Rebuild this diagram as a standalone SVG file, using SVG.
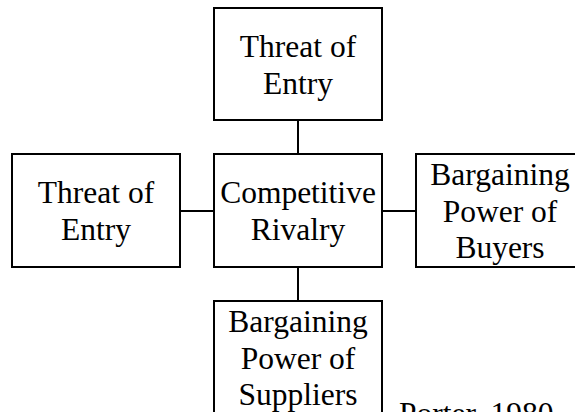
<svg xmlns="http://www.w3.org/2000/svg" width="575" height="412" viewBox="0 0 575 412">
<style>
.box{fill:#fff;stroke:#000;stroke-width:2}
.con{stroke:#000;stroke-width:2;fill:none}
text{font-family:"Liberation Serif","Times New Roman",serif;font-size:31.5px;fill:#000;text-anchor:middle}
</style>
<rect width="575" height="412" fill="#fff"/>
<g id="connectors">
<line class="con" x1="298" y1="120" x2="298" y2="154"/>
<line class="con" x1="180" y1="211" x2="214" y2="211"/>
<line class="con" x1="382" y1="211" x2="416" y2="211"/>
<line class="con" x1="298" y1="267" x2="298" y2="301"/>
</g>
<g id="top">
<rect class="box" x="214" y="8" width="168" height="112"/>
<text x="298" y="57">Threat of</text>
<text x="298" y="94">Entry</text>
</g>
<g id="left">
<rect class="box" x="12" y="154" width="168" height="113"/>
<text x="96" y="203">Threat of</text>
<text x="96" y="240">Entry</text>
</g>
<g id="center">
<rect class="box" x="214" y="154" width="168" height="113"/>
<text x="298" y="203">Competitive</text>
<text x="298" y="240">Rivalry</text>
</g>
<g id="right">
<rect class="box" x="416" y="154" width="168" height="113"/>
<text x="500" y="185">Bargaining</text>
<text x="500" y="221.5">Power of</text>
<text x="500" y="258">Buyers</text>
</g>
<g id="bottom">
<rect class="box" x="214" y="301" width="168" height="130"/>
<text x="298" y="332">Bargaining</text>
<text x="298" y="368.5">Power of</text>
<text x="298" y="405">Suppliers</text>
</g>
<text x="399" y="424" style="text-anchor:start">Porter, 1980</text>
</svg>
